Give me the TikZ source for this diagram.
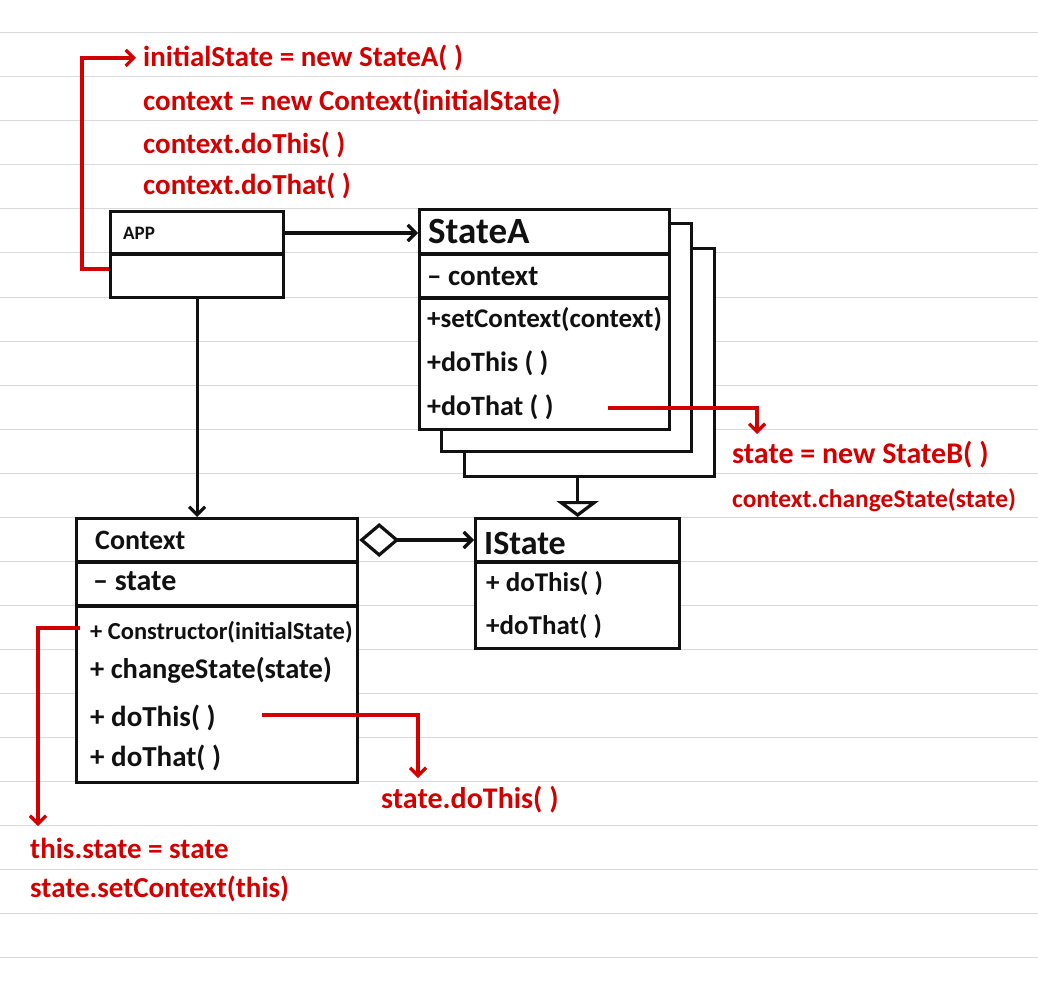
\documentclass[tikz,border=0pt]{standalone}
\usepackage{fontspec}
\setmainfont{Carlito}
\usetikzlibrary{arrows.meta}
\definecolor{noteink}{HTML}{111111}
\definecolor{notered}{HTML}{D20000}
\definecolor{noterule}{HTML}{D9D9D9}
\newcommand{\divider}[2]{\draw[umlline] (#1.west |- 0,#2) -- (#1.east |- 0,#2);}
\newcommand{\fs}[1]{\fontsize{#1}{#1}\selectfont\bfseries}

\begin{document}
\begin{tikzpicture}[x=1pt, y=-1pt,
  every node/.style={inner sep=0pt},
  classbox/.style={draw=noteink, line width=3.2pt, fill=white, anchor=north west},
  member/.style={noteink, anchor=west, font=\fs{27}},
  note/.style={notered, anchor=west, font=\fs{29}},
  umlline/.style={noteink, line width=3.2pt},
  redline/.style={notered, line width=3.2pt},
  barbtip/.style={-{Straight Barb[length=8pt,width=16pt]}}]

  \useasboundingbox[fill=white] (0,0) rectangle (1038,1000);
  % ruled paper
  \foreach \k in {0,...,21}
    \draw[noterule, line width=1pt] (0,{33+44*\k}) -- (1038,{33+44*\k});

  % class boxes
  \node[classbox, minimum width=173, minimum height=86] (app) at (109,210) {};
  \node[classbox, minimum width=250, minimum height=228] (back2) at (463,247) {};
  \node[classbox, minimum width=250, minimum height=228] (back1) at (440,222) {};
  \node[classbox, minimum width=250, minimum height=220] (stateA) at (418,208) {};
  \node[classbox, minimum width=281, minimum height=264] (ctx) at (75,517) {};
  \node[classbox, minimum width=204, minimum height=130] (istate) at (474,517) {};

  \divider{app}{254}
  \divider{stateA}{254}
  \divider{stateA}{298}
  \divider{ctx}{562}
  \divider{ctx}{606}
  \divider{istate}{562}

  % members
  \node[member, font=\fs{19}] (appname) at (123,233) {APP};

  \node[member, font=\fs{37}] (stateAname) at (428,232) {StateA};
  \node[member, font=\fs{29}] (stateAattr) at (427,276) {– context};
  \node[member] (setctx) at (427,320) {+setContext(context)};
  \node[member, font=\fs{28}] (thisA) at (427,363) {+doThis ( )};
  \node[member, font=\fs{28}] (thatA) at (427,407) {+doThat ( )};

  \node[member, font=\fs{28}] (ctxname) at (95,540) {Context};
  \node[member, font=\fs{30}] (ctxattr) at (93,581) {– state};
  \node[member, font=\fs{24.5}] (ctor) at (90,632) {+ Constructor(initialState)};
  \node[member, font=\fs{28.5}] (change) at (90,670) {+ changeState(state)};
  \node[member, font=\fs{29}] (thisctx) at (90,718) {+ doThis( )};
  \node[member, font=\fs{29}] (thatctx) at (90,758) {+ doThat( )};

  \node[member, font=\fs{34}] (isname) at (484,543) {IState};
  \node[member] (thisis) at (486,584) {+ doThis( )};
  \node[member] (thatis) at (486,627) {+doThat( )};

  % notes
  \node[note] (init) at (143,58) {initialState = new StateA( )};
  \node[note] (newctx) at (143,102) {context = new Context(initialState)};
  \node[note] (callthis) at (143,145) {context.doThis( )};
  \node[note] (callthat) at (143,186) {context.doThat( )};
  \node[note, font=\fs{30}] (newB) at (732,455) {state = new StateB( )};
  \node[note, font=\fs{25.5}] (changeB) at (732,500) {context.changeState(state)};
  \node[note] (setstate) at (30,848) {this.state = state};
  \node[note] (setctxnote) at (30,889) {state.setContext(this)};
  \node[note, font=\fs{30}] (dothis) at (381,800) {state.doThis( )};

  % uml connectors
  \draw[umlline, barbtip] (appname -| app.east) -- (appname -| stateA.west);
  \draw[umlline, barbtip] (app.south) -- (app.south |- ctx.north);
  \draw[umlline, {Diamond[open,length=40pt,width=34pt]}-{Straight Barb[length=8pt,width=16pt]}]
    (ctxname -| ctx.east) -- (ctxname -| istate.west);
  \draw[umlline, -{Triangle[open,length=16pt,width=42pt]}]
    (istate.north |- back2.south) -- (istate.north);

  % red call notes
  \coordinate (appslot) at (109,269);
  \coordinate (thatout) at (608,408);
  \coordinate (thatdrop) at (757,434);
  \coordinate (ctorin) at (80,628);
  \coordinate (ctordrop) at (38,826);
  \coordinate (thisout) at (262,715);
  \coordinate (thisdrop) at (418,778);

  \draw[redline, barbtip] (appslot) -- ++(-27,0) |- ([xshift=-7pt]init.west);
  \draw[redline, barbtip] (thatout) -| (thatdrop);
  \draw[redline, barbtip] (ctorin) -| (ctordrop);
  \draw[redline, barbtip] (thisout) -| (thisdrop);

\end{tikzpicture}
\end{document}
